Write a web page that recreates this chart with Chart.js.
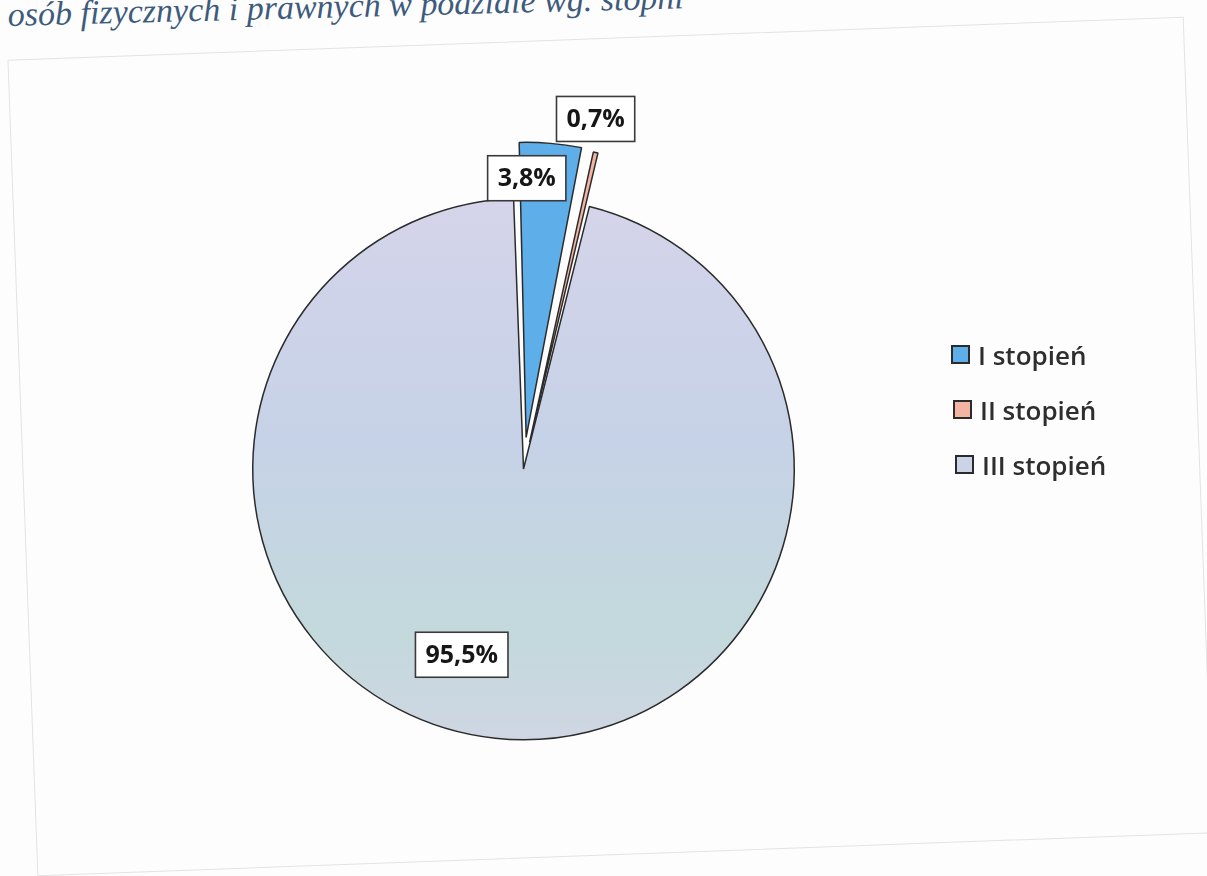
<!DOCTYPE html>
<html lang="pl">
<head>
<meta charset="utf-8">
<title>Udział wg stopni</title>
<script src="https://cdn.jsdelivr.net/npm/chart.js@4.4.1/dist/chart.umd.min.js"></script>
<style>
  html, body { margin: 0; padding: 0; background: #fdfdfd; }
  #wrap { position: relative; width: 1207px; height: 876px; overflow: hidden; }
  #frame {
    position: absolute; left: 22px; top: 38px; width: 1175px; height: 815px;
    border: 1px solid #e3e3e3; transform: rotate(-2.1deg);
  }
  #caption {
    position: absolute; left: 8px; top: -4px; line-height: 34px;
    font: italic 34px "Liberation Serif", serif; color: #3d5b7c;
    transform: rotate(-1.5deg); transform-origin: 0 26px; white-space: nowrap;
  }
  #chart { position: absolute; left: 0; top: 0; }
  #legend { position: absolute; left: 951px; top: 327px; }
  .item { height: 55px; display: flex; align-items: center;
    font: 600 26px "Open Sans", sans-serif; color: #2e2e2e; }
  .box { width: 15px; height: 15px; border: 2px solid #2b2b2b; margin-right: 8px; }
</style>
</head>
<body>
<div id="wrap">
  <div id="frame"></div>
  <div id="caption">osób fizycznych i prawnych w podziale wg. stopni</div>
  <canvas id="chart" width="1207" height="876"></canvas>
  <div id="legend"></div>
</div>
<script>
const categories = ['I stopień', 'II stopień', 'III stopień'];
const shares = [3.8, 0.7, 95.5];
const sliceColors = ['#5eaeea', '#f3b4a3', '#cdd3e6'];
// Chart.js moves a slice by roughly offset/4 * (2 - sin(angle))
const explode = [127, 110, 0];

// where each value box sits: distance in radii, turn from the slice middle in degrees
const labelDist = [1.074, 1.32, 0.723];
const labelTurn = [-4.1, -1.2, 12.4];

function fmt(v) {
    return v.toFixed(1).replace('.', ',') + '%';
}

function pieFill(context) {
    const i = context.dataIndex;
    const area = context.chart.chartArea;
    if (i !== 2 || !area) return sliceColors[i];
    const g = context.chart.ctx.createLinearGradient(0, area.top + 60, 0, area.bottom - 60);
    g.addColorStop(0, '#d5d4ea');
    g.addColorStop(0.45, '#c6d2e7');
    g.addColorStop(0.8, '#c3d9dc');
    g.addColorStop(1, '#cfd6e3');
    return g;
}

const boxLabels = {
    id: 'boxLabels',
    afterDatasetsDraw(chart) {
        const ctx = chart.ctx;
        const meta = chart.getDatasetMeta(0);
        ctx.save();
        ctx.font = '700 25px "Open Sans", sans-serif';
        ctx.textAlign = 'center';
        ctx.textBaseline = 'middle';
        meta.data.forEach((arc, i) => {
            const p = arc.getProps(['x', 'y', 'startAngle', 'endAngle', 'outerRadius'], true);
            const a = (p.startAngle + p.endAngle) / 2 + labelTurn[i] * Math.PI / 180;
            const d = p.outerRadius * labelDist[i];
            const cx = p.x + Math.cos(a) * d;
            const cy = p.y + Math.sin(a) * d;
            const text = fmt(shares[i]);
            const w = ctx.measureText(text).width + 20;
            const h = 45;
            ctx.fillStyle = '#ffffff';
            ctx.fillRect(cx - w / 2, cy - h / 2, w, h);
            ctx.strokeStyle = '#3a3a3a';
            ctx.lineWidth = 1.6;
            ctx.strokeRect(cx - w / 2, cy - h / 2, w, h);
            ctx.fillStyle = '#161616';
            ctx.fillText(text, cx, cy + 1);
        });
        ctx.restore();
    }
};

new Chart(document.getElementById('chart'), {
    type: 'pie',
    data: {
        labels: categories,
        datasets: [{
            data: shares,
            backgroundColor: pieFill,
            borderColor: '#2b2b2b',
            borderWidth: 1.5,
            hoverBorderWidth: 1.5,
            offset: explode,
            hoverOffset: 0,
            rotation: -2.1,
            clip: false
        }]
    },
    options: {
        responsive: false,
        animation: false,
        events: [],
        layout: { padding: { top: 134, bottom: 72, left: 188, right: 348 } },
        plugins: {
            legend: { display: false },
            tooltip: { enabled: false }
        }
    },
    plugins: [boxLabels]
});

// legend
const legend = document.getElementById('legend');
categories.forEach((name, i) => {
    const item = document.createElement('div');
    item.className = 'item';
    item.style.marginLeft = (i * 2) + 'px';
    const box = document.createElement('div');
    box.className = 'box';
    box.style.background = sliceColors[i];
    const txt = document.createElement('span');
    txt.textContent = name;
    item.appendChild(box);
    item.appendChild(txt);
    legend.appendChild(item);
});
</script>
</body>
</html>
